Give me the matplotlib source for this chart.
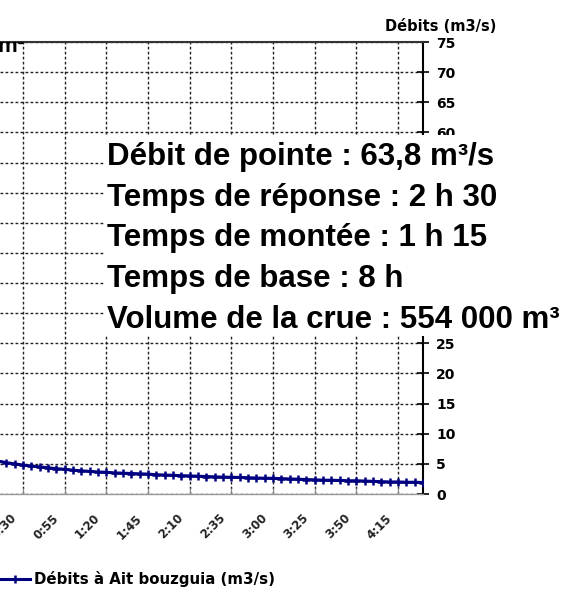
"""
Hydrogramme de crue (extrait) : débits à Ait bouzguia, axe des débits à droite.
Sortie : out.png (566 x 595 px)
"""

import matplotlib.pyplot as plt
from matplotlib.lines import Line2D
from matplotlib.patches import Rectangle
from matplotlib.transforms import ScaledTranslation

# --- données (temps en minutes, pas de 5 min) ---
temps_min = [15, 20, 25, 30, 35, 40, 45, 50, 55, 60, 65, 70, 75, 80, 85, 90,
             95, 100, 105, 110, 115, 120, 125, 130, 135, 140, 145, 150, 155,
             160, 165, 170, 175, 180, 185, 190, 195, 200, 205, 210, 215, 220,
             225, 230, 235, 240, 245, 250, 255, 260, 265, 270]
debits = [5.45, 5.2, 5.0, 4.8, 4.65, 4.5, 4.35, 4.2, 4.1, 3.95, 3.85, 3.75,
          3.65, 3.6, 3.5, 3.45, 3.4, 3.35, 3.3, 3.2, 3.15, 3.1, 3.05, 3.0,
          2.95, 2.9, 2.85, 2.8, 2.78, 2.75, 2.7, 2.65, 2.62, 2.6, 2.55, 2.5,
          2.45, 2.4, 2.35, 2.3, 2.28, 2.25, 2.2, 2.2, 2.15, 2.1, 2.05, 2.0,
          2.0, 1.95, 1.95, 1.9]

ticks_min = [30, 55, 80, 105, 130, 155, 180, 205, 230, 255]
ticks_lab = ["0:30", "0:55", "1:20", "1:45", "2:10", "2:35", "3:00", "3:25",
             "3:50", "4:15"]
y_ticks = list(range(0, 80, 5))
# graduations masquées par l'encadré blanc
y_caches = [30, 35, 40, 45, 50, 55]

infos = [
    "Débit de pointe : 63,8 m³/s",
    "Temps de réponse : 2 h 30",
    "Temps de montée : 1 h 15",
    "Temps de base : 8 h",
    "Volume de la crue : 554 000 m³",
]
serie_label = "Débits à Ait bouzguia (m3/s)"
axe_label = "Débits (m3/s)"

plt.rcParams["font.family"] = ["Liberation Sans", "DejaVu Sans"]
plt.rcParams["font.weight"] = "bold"
PETIT = ["DejaVu Sans"]

W, H, DPI = 566, 595, 100
fig = plt.figure(figsize=(W / DPI, H / DPI), dpi=DPI)


def px(x, y):
    """pixels (origine en haut à gauche) -> fraction de figure"""
    return x / W, 1 - y / H


# axe : bord gauche hors image, spine droit à x=423, y de 42 à 494
x0, y_top = px(0, 42)
x1, y_bot = px(423, 494)
ax = fig.add_axes([x0, y_bot, x1 - x0, y_top - y_bot])

ax.plot(temps_min, debits, color="#000080", lw=2.2, marker="+", ms=6,
        mew=1.8, zorder=3, clip_on=True)

ax.set_xlim(16.2, 270)
ax.set_ylim(0, 75)
ax.set_xticks(ticks_min)
ax.set_xticklabels(ticks_lab)
ax.set_yticks(y_ticks)
ax.set_yticklabels(["" if v in y_caches else str(v) for v in y_ticks])

ax.yaxis.tick_right()
ax.tick_params(axis="y", which="both", direction="inout", length=9,
               width=1.2, pad=5, labelsize=10, colors="black",
               left=False, right=True)
ax.tick_params(axis="x", direction="in", length=4, width=0.8, pad=16,
               labelsize=8.5, color="#888888")

off = ScaledTranslation(-8 / DPI, 0, fig.dpi_scale_trans)
for lab in ax.get_xticklabels():
    lab.set_rotation(45)
    lab.set_rotation_mode("anchor")
    lab.set_ha("right")
    lab.set_va("center")
    lab.set_fontweight("bold")
    lab.set_family(PETIT)
    lab.set_color("#222222")
    lab.set_transform(lab.get_transform() + off)
for lab in ax.get_yticklabels():
    lab.set_fontweight("bold")
    lab.set_family(PETIT)

ax.grid(True, color="#222222", lw=1.0, linestyle=(0, (2, 1.6)))
ax.set_axisbelow(True)

ax.spines["left"].set_visible(False)
ax.spines["right"].set_color("black")
ax.spines["right"].set_linewidth(1.5)
ax.spines["top"].set_color("#333333")
ax.spines["top"].set_linewidth(1.5)
ax.spines["bottom"].set_color("#999999")
ax.spines["bottom"].set_linewidth(1.0)

# titre de l'axe des débits
tx, ty = px(496, 31)
fig.text(tx, ty, axe_label, ha="right", va="baseline", fontsize=10.5,
         fontweight="bold", family=PETIT)

# morceau de texte coupé en haut à gauche
mx, my = px(25, 52)
t = fig.text(mx, my, "m³", ha="right", va="baseline", fontsize=16,
             fontweight="bold")
t.set_clip_box(ax.bbox)
t.set_clip_on(True)

# encadré blanc des caractéristiques de la crue
rx, ry = px(105, 336)
rw = (566 - 105) / W + 0.01
rh = (336 - 135) / H
fig.patches.append(Rectangle((rx, ry), rw, rh, transform=fig.transFigure,
                             facecolor="white", edgecolor="none", zorder=5))
for i, ligne in enumerate(infos):
    lx, ly = px(107, 165 + i * 40.7)
    fig.text(lx, ly, ligne, ha="left", va="baseline", fontsize=22.5,
             fontweight="bold", color="black", zorder=6)

# légende en bas
handle = Line2D([], [], color="#000080", lw=2.2, marker="+", ms=6, mew=1.8)
lgx, lgy = px(0, 579)
fig.legend(handles=[handle], labels=[serie_label], loc="center left",
           bbox_to_anchor=(lgx, lgy), frameon=False, borderpad=0,
           borderaxespad=0, handlelength=2.0, handletextpad=0.25,
           prop={"size": 10.8, "weight": "bold", "family": PETIT})

fig.savefig("out.png", dpi=DPI)
